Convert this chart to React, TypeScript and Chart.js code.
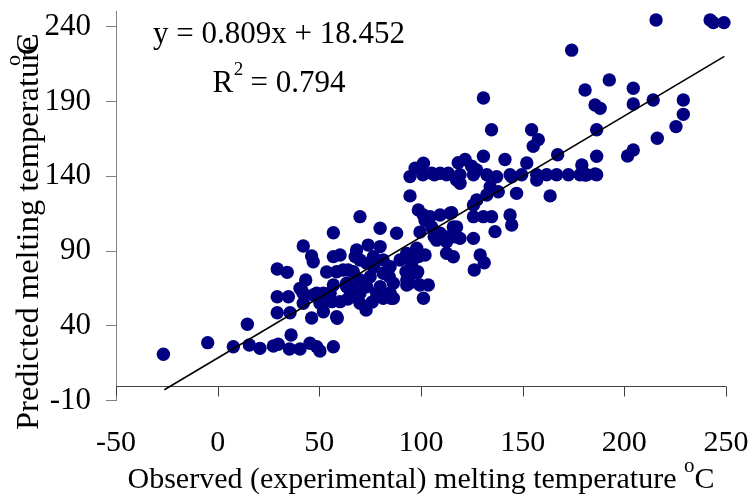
import { useEffect, useRef } from 'react';
import { Chart, registerables } from 'chart.js';

Chart.register(...registerables);

// Observed (experimental) melting temperature, °C
const OBS_X = [
  -26.7, -4.9, 7.7, 14.6, 15.6, 20.8, 27.4, 29.8, 36.1, 35.3, 40.5, 45.4, 48.7, 50.3, 56.9,
  29.3, 34.2, 29.3, 34.8, 29.3, 35.6, 43.3, 46.2, 46.2, 42.1, 47, 52, 58.8, 53.6, 58.5, 64.2, 56.9, 60.2,
  40.5, 42.1, 47, 52, 51, 56.9, 56.1, 56.9, 73, 70, 79.9, 88, 68.3, 74, 79.9, 76.6, 70, 67.6, 61.7, 66.7,
  42, 48.7, 55.3, 63.4, 70, 75, 81.4, 84.8, 81.4, 89.7, 93, 95.4, 97.9, 93, 86.4, 79.9, 78.2, 84.8, 81.4,
  86.4, 93, 99.5, 103.6, 101.2, 58.5, 50.3, 60.2, 66.7, 73.3, 76.6, 73.3, 64, 70, 76, 92.6, 98.4, 85.3,
  98.8, 66.7, 84.4, 94.3, 65.1, 63.4, 70, 41.3,
  94.6, 94.6, 97.1, 101.2, 105.3, 109.4, 113.4, 117.5, 118.3, 98.7, 101.2, 104.5, 109.4, 115.1, 102,
  99.5, 105.3, 109.4, 115.9, 116.7, 107.7, 112.6, 112.6, 115.9, 102, 97.9, 100.9, 106.6, 106.5,
  130.7, 134.7, 174.1, 180.7, 192.6, 185.6, 188.1, 154.4, 157.7, 155.2, 186.4, 167.2, 186.4, 130.7,
  121.7, 141.3, 152, 124.9,
  112.6, 119.2, 125.8, 132.4, 143.8, 149.5, 156.9, 161.8, 166.7, 172.5, 178.2, 181.5, 186.4,
  119.2, 127.4, 137.2, 134, 138, 132.3, 147, 163.5, 156.9, 144.6, 127.4, 125.8, 114.3, 117.5, 125.8,
  130.7, 134.7, 143.8, 144.6, 136.4, 119.2, 125.8, 129.1, 111.8, 131.1, 126.2,
  215.6, 242.2, 243.8, 249, 204.4, 204.4, 214.2, 229, 229, 225.4, 216.2, 204.4, 201.6, 179.1, 185.6, 180.7,
];

// Predicted melting temperature, °C
const PRED_Y = [
  21, 28.8, 26.1, 41.1, 27.2, 25, 26.6, 27.7, 33.9, 24.6, 24.6, 28.4, 26.1, 23.2, 26.1,
  78, 75.8, 59.5, 59.5, 48.8, 48.8, 70.7, 45.3, 86.7, 93.4, 82.9, 49.5, 45.1, 76, 76.2, 77.4, 86.3, 87.4,
  65.1, 55.1, 60.7, 61.8, 55, 67.3, 56.2, 102.3, 50.6, 113, 105.3, 101.9, 90.7, 94, 93, 86.3, 84, 86.3, 77.4, 76.2,
  61.8, 61.8, 61.8, 66.2, 70.7, 72.9, 75.2, 79.6, 84, 84, 88.5, 81.8, 75.2, 70.7, 68.5, 66.2, 61.8, 61.8, 58.5,
  58.5, 67.3, 67.3, 67.3, 58.5, 46.1, 55.1, 56.2, 61.8, 66.2, 79.6, 81.8, 58, 62, 56, 76.2, 76.2, 58.5,
  86.3, 68.5, 72.9, 68.5, 59.5, 68.5, 55.1, 64,
  126.9, 139.8, 145.4, 148.7, 142, 142, 142, 137.5, 149.1, 117.5, 114.1, 113, 114.1, 115.7, 110.5,
  102.7, 106.1, 101.9, 106.1, 99.6, 97.3, 96.2, 88.5, 86.2, 87.4, 91.9, 141, 141, 99.6,
  192.3, 171.1, 224.3, 197.7, 204.4, 187.6, 185.4, 171.1, 164.5, 160, 171.1, 154.4, 153.4, 153.4,
  151.2, 151.2, 148.9, 146.7,
  141, 141, 141, 141, 141, 141, 141, 141, 141, 141, 141, 141, 141,
  135.3, 144.2, 139.7, 133, 129.7, 127.5, 128.6, 126.9, 137.5, 139.7, 124.2, 120.8, 115.3, 106.1, 113,
  113, 113, 114.1, 107.4, 103, 98.5, 98.5, 87.4, 99.6, 82.2, 77.4,
  244.5, 244.5, 242.7, 242.7, 198.8, 188.3, 191, 191, 181.4, 173.2, 165.4, 157.6, 153.6, 147.6, 141.5, 140.9,
];

// Linear trend line end points (y = 0.809x + 18.452)
const TREND_X = [-26.2, 249.2];
const TREND_Y = [-2.7, 220.1];

const X_TICKS = [-50, 0, 50, 100, 150, 200, 250];
const Y_TICKS = [-10, 40, 90, 140, 190, 240];

const EQUATION = 'y = 0.809x + 18.452';
const R2_LABEL = 'R';
const R2_SUP = '2';
const R2_VALUE = ' = 0.794';
const X_TITLE = 'Observed (experimental) melting temperature ';
const Y_TITLE = 'Predicted melting temperature';
const DEG_SUP = 'o';
const UNIT = 'C';

const FONT = '"Liberation Serif", "Times New Roman", serif';

const overlayPlugin = {
  id: 'overlay',
  beforeDatasetsDraw(chart: any) {
    const { ctx } = chart;
    const xs = chart.scales.x;
    const ys = chart.scales.y;
    const y0 = Math.round(ys.getPixelForValue(0)) + 0.5;
    ctx.save();
    ctx.strokeStyle = '#404040';
    ctx.lineWidth = 1;
    ctx.beginPath();
    ctx.moveTo(xs.left, y0);
    ctx.lineTo(xs.right, y0);
    for (const t of xs.ticks) {
      const px = Math.round(xs.getPixelForValue(t.value)) + 0.5;
      ctx.moveTo(px, y0);
      ctx.lineTo(px, y0 + 10);
    }
    ctx.stroke();
    ctx.restore();
  },
  afterDraw(chart: any) {
    const { ctx, chartArea } = chart;
    ctx.save();
    ctx.fillStyle = '#000';
    ctx.textBaseline = 'alphabetic';
    ctx.textAlign = 'left';

    // equation
    ctx.font = `31px ${FONT}`;
    const eqW = ctx.measureText(EQUATION).width;
    const eqCx = 279;
    ctx.fillText(EQUATION, eqCx - eqW / 2, 43);
    const rW = ctx.measureText(R2_LABEL).width;
    const vW = ctx.measureText(R2_VALUE).width;
    ctx.font = `19px ${FONT}`;
    const sW = ctx.measureText(R2_SUP).width;
    const l2 = eqCx - (rW + sW + vW) / 2;
    ctx.font = `31px ${FONT}`;
    ctx.fillText(R2_LABEL, l2, 91.5);
    ctx.fillText(R2_VALUE, l2 + rW + sW, 91.5);
    ctx.font = `19px ${FONT}`;
    ctx.fillText(R2_SUP, l2 + rW + 0.5, 75);

    // x title
    ctx.font = `30px ${FONT}`;
    const xtW = ctx.measureText(X_TITLE).width;
    const cW = ctx.measureText(UNIT).width;
    ctx.font = `21px ${FONT}`;
    const oW = ctx.measureText(DEG_SUP).width;
    const xCenter = (chartArea.left + chartArea.right) / 2;
    const xStart = xCenter - (xtW + oW + cW) / 2;
    ctx.font = `30px ${FONT}`;
    ctx.fillText(X_TITLE, xStart, 488);
    ctx.fillText(UNIT, xStart + xtW + oW, 488);
    ctx.font = `21px ${FONT}`;
    ctx.fillText(DEG_SUP, xStart + xtW, 472);

    // y title (rotated)
    ctx.translate(38, 430);
    ctx.rotate(-Math.PI / 2);
    ctx.font = `32.5px ${FONT}`;
    ctx.fillText(Y_TITLE, 0, 0);
    const cStart = 430 - 55;
    ctx.fillText(UNIT, cStart, 0);
    ctx.font = `22px ${FONT}`;
    const yoW = ctx.measureText(DEG_SUP).width;
    ctx.fillText(DEG_SUP, cStart - yoW, -18);
    ctx.restore();
  },
};

export default function App() {
  const canvasRef = useRef<HTMLCanvasElement | null>(null);

  useEffect(() => {
    const canvas = canvasRef.current;
    if (!canvas) return;
    const points = OBS_X.map((x, i) => ({ x, y: PRED_Y[i] }));
    const trend = TREND_X.map((x, i) => ({ x, y: TREND_Y[i] }));

    const chart = new Chart(canvas, {
      type: 'scatter',
      data: {
        datasets: [
          {
            type: 'line',
            data: trend,
            borderColor: '#000000',
            borderWidth: 1.6,
            pointRadius: 0,
            fill: false,
            clip: false,
            order: 0,
          } as any,
          {
            data: points,
            backgroundColor: '#000080',
            borderColor: '#000080',
            borderWidth: 0,
            pointRadius: 6.7,
            pointHoverRadius: 6.7,
            clip: false,
            order: 1,
          } as any,
        ],
      },
      options: {
        responsive: false,
        animation: false,
        devicePixelRatio: 1,
        events: [],
        layout: { padding: { top: 11.7, right: 26, bottom: 0, left: 0 } },
        plugins: {
          legend: { display: false },
          tooltip: { enabled: false },
          title: { display: false },
        },
        scales: {
          x: {
            type: 'linear',
            min: -50,
            max: 250,
            grid: { display: false },
            border: { display: false },
            ticks: {
              stepSize: 50,
              color: '#000',
              padding: 16,
              maxRotation: 0,
              font: { family: FONT, size: 30 },
            },
            afterBuildTicks: (scale: any) => {
              scale.ticks = X_TICKS.map((v) => ({ value: v }));
            },
            afterFit: (scale: any) => {
              scale.height = 93.3;
              scale.paddingLeft = 0;
              scale.paddingRight = 0;
            },
          },
          y: {
            type: 'linear',
            min: -10,
            max: 250,
            grid: {
              display: true,
              drawOnChartArea: false,
              drawTicks: true,
              tickLength: 10,
              color: '#808080',
            },
            border: { display: true, color: '#808080', width: 1 },
            ticks: {
              color: '#000',
              padding: 15,
              font: { family: FONT, size: 31 },
            },
            afterBuildTicks: (scale: any) => {
              scale.ticks = Y_TICKS.map((v) => ({ value: v }));
            },
            afterFit: (scale: any) => {
              scale.width = 116;
              scale.paddingTop = 0;
              scale.paddingBottom = 0;
            },
          },
        },
      },
      plugins: [overlayPlugin],
    } as any);

    return () => chart.destroy();
  }, []);

  return (
    <div style={{ position: 'absolute', left: 0, top: 0, width: 752, height: 494, background: '#fff' }}>
      <canvas ref={canvasRef} width={752} height={494} />
    </div>
  );
}
